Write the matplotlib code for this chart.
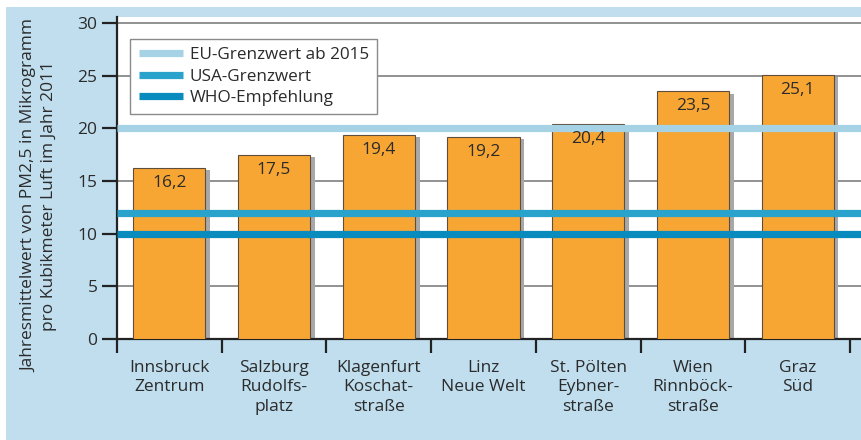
import matplotlib.pyplot as plt
from matplotlib.patches import Rectangle

# Data
stations = [
    "Innsbruck\nZentrum",
    "Salzburg\nRudolfs-\nplatz",
    "Klagenfurt\nKoschat-\nstraße",
    "Linz\nNeue Welt",
    "St. Pölten\nEybner-\nstraße",
    "Wien\nRinnböck-\nstraße",
    "Graz\nSüd",
]
pm25 = [16.2, 17.5, 19.4, 19.2, 20.4, 23.5, 25.1]

limit_names = ["EU-Grenzwert ab 2015", "USA-Grenzwert", "WHO-Empfehlung"]
limit_values = [20, 12, 10]
limit_colors = ["#a6d2e6", "#2aa3cc", "#0a8bbd"]

yticks = [0, 5, 10, 15, 20, 25, 30]

plt.rcParams["font.family"] = ["Open Sans", "DejaVu Sans"]
text_color = "#2b2b2b"

fig = plt.figure(figsize=(8.61, 4.40), dpi=100)
fig.patch.set_facecolor("white")

# light blue panel behind everything
panel = Rectangle((6 / 861, 0), 1, 1 - 7 / 440, transform=fig.transFigure,
                  facecolor="#c0deee", edgecolor="none", zorder=-10)
fig.add_artist(panel)

ax = fig.add_axes([117 / 861, 101 / 440, 744 / 861, 322 / 440])
ax.set_facecolor("white")

x = list(range(len(stations)))

# grid
for yv in yticks[1:]:
    ax.axhline(yv, color="#7f7f7f", lw=1.2, zorder=1)

# shadow + bars
ax.bar([i + 0.045 for i in x], [v - 0.2 for v in pm25], width=0.69,
       color="#a8a8a8", zorder=2)
bars = ax.bar(x, pm25, width=0.69, color="#f8a633",
              edgecolor="#5e4d3c", linewidth=0.8, zorder=3)

for i, v in zip(x, pm25):
    ax.annotate(f"{v:.1f}".replace(".", ","), (i, v), xytext=(0, -5),
                textcoords="offset points", ha="center", va="top",
                fontsize=12.5, color=text_color, zorder=6)

# reference lines
for name, val, col in zip(limit_names, limit_values, limit_colors):
    ax.axhline(val, color=col, lw=5.2, label=name, zorder=4,
               solid_capstyle="butt")

ax.set_xlim(-0.5, 6.605)
ax.set_ylim(0, 30.57)

ax.set_yticks(yticks)
ax.set_yticklabels([str(t) for t in yticks])
ax.tick_params(axis="y", length=11, width=1.6, color="#222222",
               pad=3, labelsize=12.5, labelcolor=text_color)

ax.set_xticks(x)
ax.set_xticklabels(stations, linespacing=1.3)
ax.set_xticks([i - 0.5 for i in range(len(stations) + 1)], minor=True)
ax.tick_params(axis="x", which="major", length=0, pad=15,
               labelsize=12.5, labelcolor=text_color)
ax.tick_params(axis="x", which="minor", length=10, width=1.6,
               color="#222222")

for side in ["top", "right"]:
    ax.spines[side].set_visible(False)
for side in ["left", "bottom"]:
    ax.spines[side].set_linewidth(1.6)
    ax.spines[side].set_color("#222222")

leg = ax.legend(loc="upper left", bbox_to_anchor=(0.0175, 0.932),
                borderaxespad=0, fontsize=12.3, handlelength=2.6,
                handletextpad=0.4, labelspacing=0.3, fancybox=False,
                framealpha=1, edgecolor="#8a8a8a", borderpad=0.5)
leg.get_frame().set_linewidth(1.0)
for t in leg.get_texts():
    t.set_color(text_color)
leg.set_zorder(7)

fig.text(39 / 861, 0.555,
         "Jahresmittelwert von PM2,5 in Mikrogramm\n"
         "pro Kubikmeter Luft im Jahr 2011",
         rotation=90, ha="center", va="center", fontsize=12.5,
         color=text_color, linespacing=1.35)

fig.savefig("out.png", dpi=100)
